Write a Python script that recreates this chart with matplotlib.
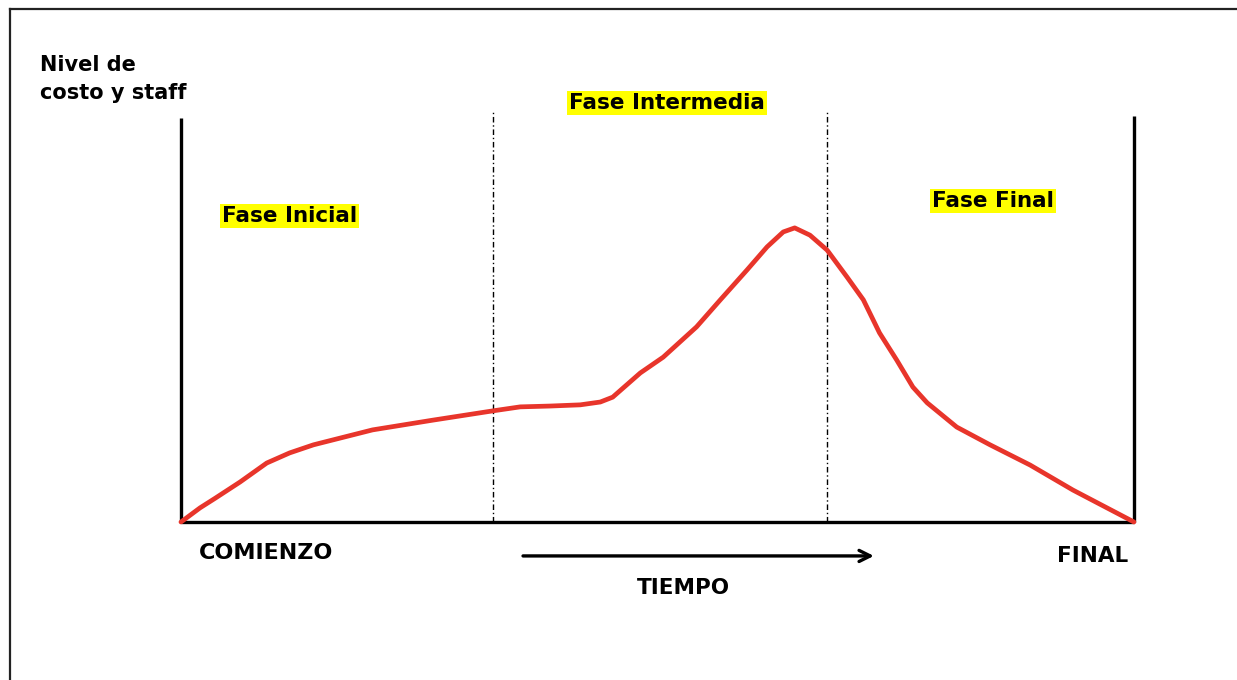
import matplotlib
matplotlib.use("Agg")
import matplotlib.pyplot as plt
from matplotlib.lines import Line2D

# Curve data (time 0..100, level 0..100)
tiempo = [0, 2.0, 3.6, 6.2, 9.0, 11.4, 13.9, 20.1, 26.4, 32.7, 35.6, 38.7, 41.9, 44.0,
          45.3, 48.2, 50.6, 54.1, 56.6, 59.4, 61.5, 63.2, 64.4, 66.0, 67.8, 69.9,
          71.6, 73.3, 75.1, 76.8, 78.3, 81.4, 84.9, 89.1, 93.6, 100]
nivel = [0, 3.5, 5.9, 9.9, 14.6, 17.1, 19.1, 22.8, 25.2, 27.5, 28.5, 28.7, 29.0, 29.7,
         30.9, 36.9, 40.8, 48.3, 55.0, 62.4, 68.1, 71.8, 72.8, 71.0, 67.3, 60.6,
         55.0, 46.8, 40.1, 33.4, 29.5, 23.5, 19.1, 14.1, 7.9, 0]
fases = [32.7, 67.8]
fase_labels = ["Fase Inicial", "Fase Intermedia", "Fase Final"]
eje_labels = ["COMIENZO", "TIEMPO", "FINAL"]

plt.rcParams['font.family'] = ['DejaVu Sans']

fig = plt.figure(figsize=(12.37, 6.80), dpi=100)
ax = fig.add_axes([0, 0, 1, 1])
ax.set_xlim(-18.99, 110.81)
ax.set_ylim(-39.11, 129.21)
ax.axis('off')

# figure frame
fig.add_artist(Line2D([10/1237, 10/1237], [0, 1 - 9/680], transform=fig.transFigure,
                      color='#222222', lw=1.6))
fig.add_artist(Line2D([10/1237, 1], [1 - 9/680, 1 - 9/680], transform=fig.transFigure,
                      color='#222222', lw=1.6))

# axes lines
ax.plot([0, 0], [0, 100], color='black', lw=2.4, solid_capstyle='butt')
ax.plot([100, 100], [0, 100.5], color='black', lw=2.4, solid_capstyle='butt')
ax.plot([0, 100], [0, 0], color='black', lw=2.4, solid_capstyle='butt')

# phase dividers
for xf in fases:
    ax.plot([xf, xf], [0, 101.5], color='black', lw=1.0, linestyle=(0, (4, 2, 1, 2)))

# curve
ax.plot(tiempo, nivel, color='#e8352b', lw=3.4, solid_capstyle='round', solid_joinstyle='round')

bold = dict(fontweight='bold', color='black')
ax.text(-14.8, 115.6, "Nivel de\ncosto y staff", fontsize=15, ha='left', va='top',
        linespacing=1.5, **bold)

yb = dict(facecolor='#ffff00', edgecolor='none', pad=1.5)
ax.text(11.4, 75.7, fase_labels[0], fontsize=15.5, ha='center', va='center', bbox=yb, **bold)
ax.text(51.0, 103.7, fase_labels[1], fontsize=15.5, ha='center', va='center', bbox=yb, **bold)
ax.text(85.2, 79.5, fase_labels[2], fontsize=15.5, ha='center', va='center', bbox=yb, **bold)

ax.text(8.9, -7.7, eje_labels[0], fontsize=16, ha='center', va='center', **bold)
ax.text(52.7, -16.3, eje_labels[1], fontsize=15.5, ha='center', va='center', **bold)
ax.text(95.7, -8.4, eje_labels[2], fontsize=15.5, ha='center', va='center', **bold)

ax.annotate("", xy=(73.0, -8.4), xytext=(35.6, -8.4),
            arrowprops=dict(arrowstyle='->,head_length=0.8,head_width=0.4',
                            color='black', lw=2.4))

fig.savefig("out.png", dpi=100, facecolor='white')
